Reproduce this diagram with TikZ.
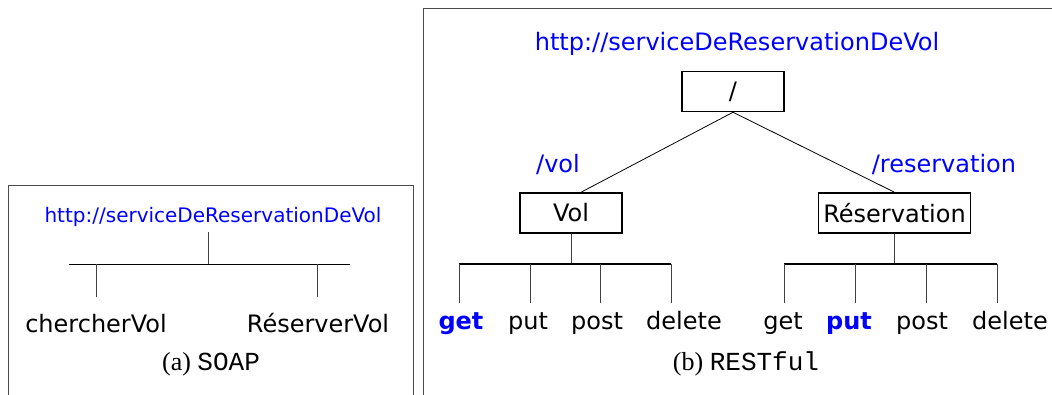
\documentclass[tikz,border=0pt]{standalone}
\usepackage{fontspec}
\newfontfamily\dv{DejaVu Sans}
\newfontfamily\tm{Liberation Serif}
\newfontfamily\mo{Liberation Mono}
\begin{document}
\begin{tikzpicture}[x=1pt,y=-1pt,
  frame/.style={draw=black!70, line width=1pt},
  lbl/.style={font=\dv\fontsize{24}{28}\selectfont, inner sep=0pt, anchor=base},
  url/.style={lbl, text=blue},
  meth/.style={lbl},
  hl/.style={lbl, text=blue, font=\dv\bfseries\fontsize{24}{28}\selectfont},
  nbox/.style={draw, line width=1.5pt, font=\dv\fontsize{24}{28}\selectfont, minimum height=40pt, inner sep=2pt},
  captext/.style={font=\tm\fontsize{26}{30}\selectfont, anchor=base, inner sep=0pt},
  conn/.style={draw=black, line width=0.8pt},
  tick/.style={draw=black!75, line width=1pt},
  bar/.style={draw=black, line width=2pt},
  thinbar/.style={draw=black, line width=1pt}]
\clip (0,0) rectangle (1052,394);
% frames
\draw[frame] (8,185) rectangle (413,420);
\draw[frame] (423,8) rectangle (1080,420);

% ---------- (a) SOAP ----------
\node[url, font=\dv\fontsize{20}{24}\selectfont] (urlA) at (213,222) {http://serviceDeReservationDeVol};
\coordinate (aT) at (208,232);
\coordinate (aJ) at (208,264);
\coordinate (aL) at (69,264);
\coordinate (aR) at (350,264);
\coordinate (a1) at (96,264);
\coordinate (a1e) at (96,297);
\coordinate (a2) at (317,264);
\coordinate (a2e) at (317,297);
\draw[tick] (aT) -- (aJ);
\draw[thinbar] (aL) -- (aR);
\draw[tick] (a1) -- (a1e);
\draw[tick] (a2) -- (a2e);
\node[lbl] (chercher) at (96,332) {chercherVol};
\node[lbl] (reserver) at (318,332) {RéserverVol};
\node[captext] (capA) at (211,370) {(a) {\mo SOAP}};

% ---------- (b) RESTful ----------
\node[url] (urlB) at (737,50) {http://serviceDeReservationDeVol};
\node[nbox, minimum width=102pt] (root) at (733,91.5) {/};
\node[nbox, minimum width=102pt] (vol) at (571,213) {Vol};
\node[nbox, minimum width=152pt] (res) at (894.5,213) {Réservation};
\draw[conn] (root.south) -- ([xshift=10pt]vol.north);
\draw[conn] (root.south) -- (res.north);
\node[url] (lvol) at (558,172) {/vol};
\node[url] (lres) at (944,172) {/reservation};

% Vol methods
\coordinate (vJ) at (571,264);
\coordinate (v1) at (459,264);
\coordinate (v2) at (530,264);
\coordinate (v3) at (600,264);
\coordinate (v4) at (671,264);
\coordinate (v1e) at (459,303);
\coordinate (v2e) at (530,303);
\coordinate (v3e) at (600,303);
\coordinate (v4e) at (671,303);
\draw[tick] (vol.south) -- (vJ);
\draw[bar] (v1) -- (v4);
\draw[tick] (v1) -- (v1e);
\draw[tick] (v2) -- (v2e);
\draw[tick] (v3) -- (v3e);
\draw[tick] (v4) -- (v4e);
\node[hl] (vget) at (461,329) {get};
\node[meth] (vput) at (528,329) {put};
\node[meth] (vpost) at (597,329) {post};
\node[meth] (vdel) at (684,329) {delete};

% Reservation methods
\coordinate (rJ) at (894.5,264);
\coordinate (r1) at (784,264);
\coordinate (r2) at (855,264);
\coordinate (r3) at (926,264);
\coordinate (r4) at (997,264);
\coordinate (r1e) at (784,303);
\coordinate (r2e) at (855,303);
\coordinate (r3e) at (926,303);
\coordinate (r4e) at (997,303);
\draw[tick] (res.south) -- (rJ);
\draw[bar] (r1) -- (r4);
\draw[tick] (r1) -- (r1e);
\draw[tick] (r2) -- (r2e);
\draw[tick] (r3) -- (r3e);
\draw[tick] (r4) -- (r4e);
\node[meth] (rget) at (783,329) {get};
\node[hl] (rput) at (849,329) {put};
\node[meth] (rpost) at (922,329) {post};
\node[meth] (rdel) at (1010,329) {delete};

\node[captext] (capB) at (746,370) {(b) {\mo RESTful}};
\end{tikzpicture}
\end{document}
